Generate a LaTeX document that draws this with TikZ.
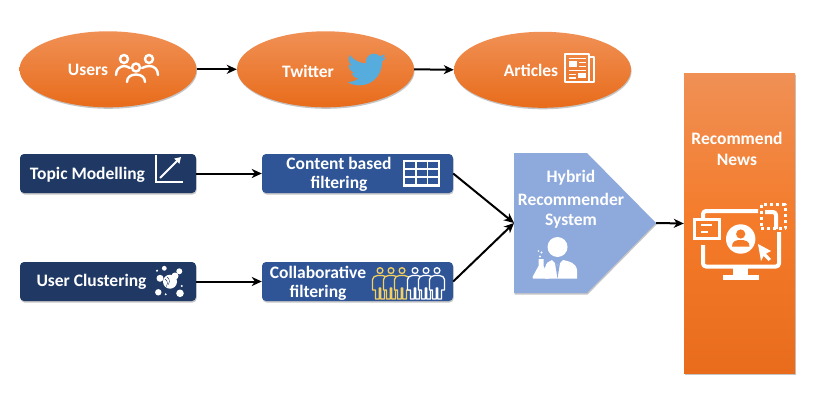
\documentclass[tikz,border=0pt]{standalone}
\usepackage{fontspec}
\setmainfont{Carlito}
\usetikzlibrary{arrows.meta,shapes.geometric,shadows,svg.path}
\definecolor{orTop}{HTML}{F09055}
\definecolor{orMid}{HTML}{F47B2A}
\definecolor{orBot}{HTML}{E86C1B}
\definecolor{navyBox}{HTML}{1F3864}
\definecolor{blueBox}{HTML}{2F5597}
\definecolor{hybBlue}{HTML}{8EA9DB}
\definecolor{birdBlue}{HTML}{55ACDD}
\definecolor{goldFig}{HTML}{F5CF5F}
\tikzset{
  softshadow/.style={drop shadow={opacity=.45,shadow xshift=.6pt,shadow yshift=-1.5pt}},
  orangeshade/.style={top color=orTop,middle color=orMid,bottom color=orBot},
  oval/.style={ellipse,draw=none,inner sep=0pt,minimum width=177pt,minimum height=76pt,orangeshade,softshadow},
  bluebox/.style={rectangle,rounded corners=4pt,draw=none,inner sep=0pt,minimum width=191pt,minimum height=39pt,fill=blueBox,softshadow},
  navybox/.style={rectangle,rounded corners=4pt,draw=none,inner sep=0pt,minimum width=176pt,minimum height=39pt,fill=navyBox,softshadow},
  lbl/.style={text=white,inner sep=0pt,font=\fontsize{17.5}{20}\selectfont\bfseries},
  link/.style={draw=black,line width=2pt,-{Stealth[length=10pt,width=9pt,inset=3pt]}},
}
\newcommand{\personfig}[3]{%
  \begin{scope}[shift={(#1,#2)},draw=#3,line width=1.3pt,line join=round]
    \draw (0,3.6) circle (2.9);
    \draw[fill=blueBox] (-4.5,32) -- (-4.5,23) -- (-7.5,23) -- (-7.5,12.5) .. controls (-7.5,10) and (-5,9) .. (-2.5,8.5) -- (2.5,8.5) .. controls (5,9) and (7.5,10) .. (7.5,12.5) -- (7.5,23) -- (4.5,23) -- (4.5,32) -- (.8,32) -- (.8,21) -- (-.8,21) -- (-.8,32) -- cycle;
  \end{scope}}
\begin{document}
\begin{tikzpicture}[x=1pt,y=-1pt]
\fill[white] (0,0) rectangle (821,401);
\useasboundingbox (0,0) rectangle (821,401);
% ovals
\node[oval] (users) at (108,69.3) {};
\node[oval] (twitter) at (325.5,69.3) {};
\node[oval] (articles) at (542.5,69.8) {};
\node[lbl] (usersT) at (88,70) {Users};
\node[lbl] (twitterT) at (308,71) {Twitter};
\node[lbl] (articlesT) at (531,70) {Articles};
% boxes
\node[navybox] (topic) at (108,173.5) {};
\node[navybox] (cluster) at (108,281.5) {};
\node[bluebox] (content) at (357.5,173.5) {};
\node[bluebox] (collab) at (357.5,281.5) {};
\node[lbl] (topicT) at (87.5,174.5) {Topic Modelling};
\node[lbl] (clusterT) at (91.5,281.5) {User Clustering};
\node[lbl] (contentA) at (339,163) {Content based};
\node[lbl] (contentB) at (339,184) {filtering};
\node[lbl] (collabA) at (318,272) {Collaborative};
\node[lbl] (collabB) at (318,293) {filtering};
% hybrid
\fill[hybBlue,softshadow] (514,153) -- (587,153) -- (656,223) -- (587,293) -- (514,293) -- cycle;
\coordinate (hybIn) at (514,223);
\coordinate (hybTip) at (656,223);
\node[lbl] (hybA) at (571,178) {Hybrid};
\node[lbl] (hybB) at (571,199) {Recommender};
\node[lbl] (hybC) at (571,221) {System};
% recommend
\node[rectangle,draw=none,inner sep=0pt,minimum width=111pt,minimum height=300pt,top color=orTop,bottom color=orBot,middle color=orMid,softshadow] (rec) at (739.5,223.5) {};
\node[lbl] (recA) at (737,138) {Recommend};
\node[lbl] (recB) at (737,160) {News};
% connectors
\draw[link] (users.east) -- (twitter.west);
\draw[link] (twitter.east) -- (articles.west);
\draw[link] (topic.east) -- (content.west);
\draw[link] (cluster.east) -- (collab.west);
\draw[link] (content.east) -- (hybIn);
\draw[link] (collab.east) -- (hybIn);
\draw[link] (hybTip) -- (rec.west);
% users icon
\begin{scope}[draw=white,line width=2.4pt,line cap=round]
  \draw (124,59) circle (4);
  \draw (149,59) circle (4);
  \draw (136,67.5) circle (4);
  \draw (116,75) .. controls (116,69) and (120,66.5) .. (124,66) .. controls (126,66) and (128,67) .. (130,68);
  \draw (142,68) .. controls (144,67) and (147,66) .. (149,66) .. controls (154,66) and (158,69) .. (158,75);
  \draw (127,82) .. controls (127,77) and (131,74.5) .. (136,74.5) .. controls (141,74.5) and (145,77) .. (145,82);
\end{scope}
% twitter bird
\begin{scope}[shift={(347,50)},xscale=1.625,yscale=-1.625]
\fill[birdBlue] svg {M 23.954 4.569 c -0.885 0.389 -1.83 0.654 -2.825 0.775 1.014 -0.611 1.794 -1.574 2.163 -2.723 -0.951 0.555 -2.005 0.959 -3.127 1.184 -0.896 -0.959 -2.173 -1.559 -3.591 -1.559 -2.717 0 -4.92 2.203 -4.92 4.917 0 0.39 0.045 0.765 0.127 1.124 C 7.691 8.094 4.066 6.13 1.64 3.161 c -0.427 0.722 -0.666 1.561 -0.666 2.475 0 1.71 0.87 3.213 2.188 4.096 -0.807 -0.026 -1.566 -0.248 -2.228 -0.616 v 0.061 c 0 2.385 1.693 4.374 3.946 4.827 -0.413 0.111 -0.849 0.171 -1.296 0.171 -0.314 0 -0.615 -0.03 -0.916 -0.086 0.631 1.953 2.445 3.377 4.604 3.417 -1.68 1.319 -3.809 2.105 -6.102 2.105 -0.39 0 -0.779 -0.023 -1.17 -0.067 2.189 1.394 4.768 2.209 7.557 2.209 9.054 0 13.999 -7.496 13.999 -13.986 0 -0.209 0 -0.42 -0.015 -0.63 0.961 -0.689 1.8 -1.56 2.46 -2.548 l -0.047 -0.02 z};
\end{scope}
% articles icon
\begin{scope}[draw=white,line width=2pt,line join=round]
  \draw (589,57) -- (593.5,57) -- (593.5,82.5) -- (565,82.5) -- (565,54.5) -- (589,54.5) -- (589,82.5);
  \fill[white] (568.5,61.5) rectangle (577,67);
  \fill[white] (578,73) rectangle (586,78.5);
  \draw[line width=1.4pt] (568.5,58.5) -- (586,58.5);
  \draw[line width=1.4pt] (579,62.5) -- (586,62.5);
  \draw[line width=1.4pt] (579,66.5) -- (586,66.5);
  \draw[line width=1.4pt] (568.5,70.5) -- (586,70.5);
  \draw[line width=1.4pt] (568.5,74.5) -- (576,74.5);
  \draw[line width=1.4pt] (568.5,78) -- (576,78);
\end{scope}
% topic icon
\draw[white,line width=2pt] (156,155) -- (156,182) -- (183,182);
\draw[white,line width=2pt,-{Triangle[length=6pt,width=7pt]}] (160,178) -- (181,157);
% cluster icon
\begin{scope}
  \fill[white] (164.3,268.3) circle (2.4);
  \fill[white] (179.3,271.3) circle (3);
  \fill[white] (157,270.7) circle (1.2);
  \fill[white] (160,278.3) circle (3.5);
  \fill[white] (170,281.7) circle (7);
  \fill[white] (175,276) circle (3.5);
  \fill[white] (158.3,292.3) circle (3.2);
  \fill[white] (180,293.3) circle (3.8);
  \fill[white] (181.7,286) circle (1.1);
  \fill[white] (165.7,294.3) circle (1.1);
  \draw[navyBox,line width=.4pt] (167,277) arc (-60:40:5);
  \draw[navyBox,line width=.4pt] (165,279) arc (-60:40:5);
\end{scope}
% table icon
\begin{scope}[draw=white,line width=1.6pt]
  \draw[line width=2.2pt] (404,161) rectangle (439,185.5);
  \draw (404,169) -- (439,169);
  \draw (404,177) -- (439,177);
  \draw (415.7,161) -- (415.7,185.5);
  \draw (427.3,161) -- (427.3,185.5);
\end{scope}
% people icons
\personfig{380}{267}{goldFig}
\personfig{391}{267}{goldFig}
\personfig{402}{267}{goldFig}
\personfig{415}{267}{white}
\personfig{426}{267}{white}
\personfig{437}{267}{white}
% scientist icon
\begin{scope}
  \fill[white] (557.5,247) circle (10);
  \fill[white] (545,278.5) -- (545,268) .. controls (546,262) and (549,261.5) .. (552,260) -- (557.5,266) -- (563,260) .. controls (570,261.5) and (576,263) .. (577,270) -- (577,278.5) -- cycle;
  \fill[hybBlue] (555,263) -- (557.5,278.5) -- (560,263) -- (557.5,266) -- cycle;
  \fill[white] (538.5,259) -- (543.5,259) -- (543.5,266) -- (549.5,277) -- (549,278.5) -- (533,278.5) -- (532.5,277) -- (538.5,266) -- cycle;
  \fill[white] (540,256.5) circle (1.2);
  \fill[white] (541.5,252.5) circle (1.1);
  \fill[white] (538.5,251) circle (.9);
\end{scope}
% recommend icon
\begin{scope}[line join=round]
  \draw[white,line width=4pt,rounded corners=3pt] (703,218) -- (703,211) -- (758,211);
  \draw[white,line width=4pt,rounded corners=3pt] (765,212) -- (776,212) -- (776,229);
  \draw[white,line width=4pt,rounded corners=3pt] (703,245) -- (703,266.5) -- (779,266.5) -- (779,232);
  \fill[white] (733,267) rectangle (748,276);
  \fill[white] (723,274.5) rectangle (759,279.5);
  \fill[white] (693,218) rectangle (721,240);
  \fill[orMid] (696,221) rectangle (718,237);
  \draw[white,line width=2pt] (701,225) -- (712,225);
  \draw[white,line width=2pt] (701,232) -- (708,232);
  \fill[white] (740.7,239) circle (14.7);
  \fill[orMid] (740.7,234) circle (4.6);
  \fill[orMid] (732,246.5) .. controls (732,241) and (736,240) .. (740.7,240) .. controls (745,240) and (749.5,241) .. (749.5,246.5) -- cycle;
  \fill[white] (758,244) -- (771,251) -- (766,253.5) -- (771,259) -- (768.5,261) -- (763.5,256) -- (761,261) -- cycle;
  \draw[white,line width=3pt,dash pattern=on 3pt off 3pt] (761,204.5) rectangle (785,228.5);
\end{scope}
\end{tikzpicture}
\end{document}
